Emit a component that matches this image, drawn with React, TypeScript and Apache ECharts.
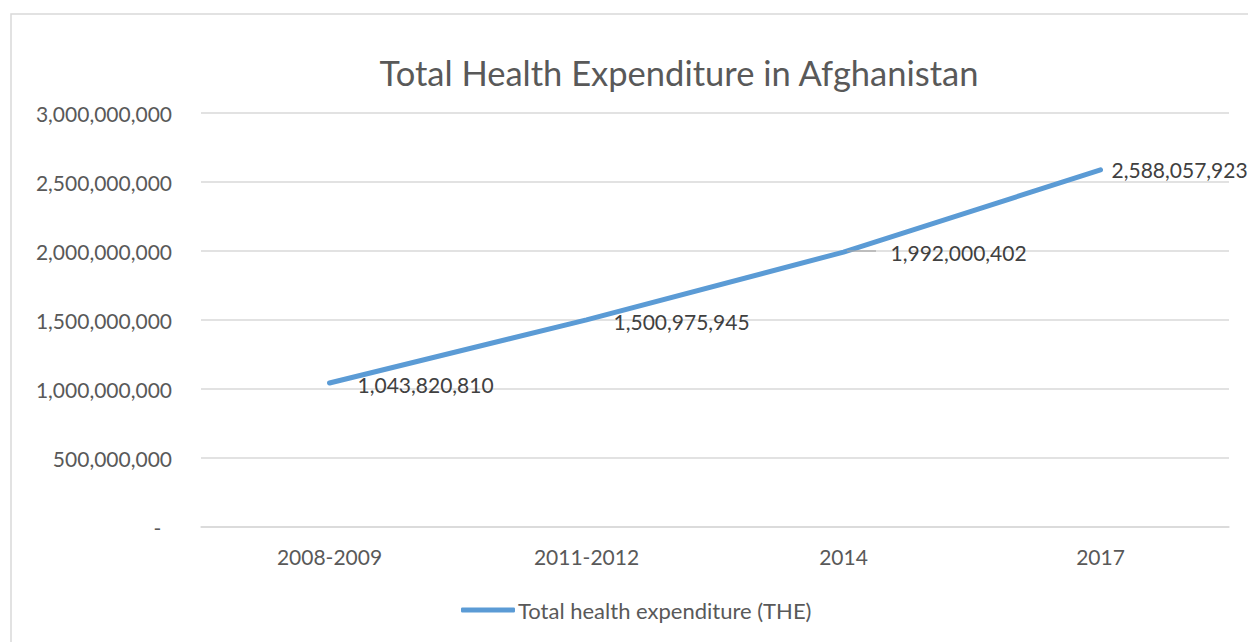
import React, { useEffect, useRef } from "react";
import * as echarts from "echarts";

const categories = ["2008-2009", "2011-2012", "2014", "2017"];
const values = [1043820810, 1500975945, 1992000402, 2588057923];
const yTicks = [0, 500000000, 1000000000, 1500000000, 2000000000, 2500000000, 3000000000];
const seriesName = "Total health expenditure (THE)";
const titleText = "Total Health Expenditure in Afghanistan";
const labelOffsets = [[28, 2], [27, 2], [47, 0], [11, 0]];

const FONT = "Lato, 'Open Sans', sans-serif";

export default function App() {
  const ref = useRef<HTMLDivElement>(null);
  useEffect(() => {
    if (!ref.current) return;
    const chart = echarts.init(ref.current, undefined, { renderer: "svg" });
    const fmt = (v: number) => (v === 0 ? "-\u00a0\u00a0" : v.toLocaleString("en-US"));
    chart.setOption({
      animation: false,
      textStyle: { fontFamily: FONT },
      title: {
        text: titleText,
        left: 674,
        textAlign: "center",
        top: 50,
        textStyle: { fontFamily: FONT, fontSize: 34.5, fontWeight: "normal", color: "#595959" },
      },
      graphic: [
        {
          type: "rect",
          shape: { x: 11, y: 14, width: 1400, height: 800 },
          style: { fill: "none", stroke: "#d9d9d9", lineWidth: 1.5 },
          silent: true,
        },
        {
          type: "line",
          z: 100,
          shape: { x1: 847, y1: 251, x2: 876, y2: 251 },
          style: { stroke: "#a6a6a6", lineWidth: 1.2 },
          silent: true,
        },
      ],
      legend: {
        data: [seriesName],
        left: 456,
        top: 594,
        itemWidth: 54,
        itemHeight: 5,
        itemGap: 4,
        icon: "roundRect",
        textStyle: { fontFamily: FONT, fontSize: 22, color: "#595959", padding: [0, 0, 0, -2] },
      },
      grid: { left: 201, right: 19, top: 113, bottom: 115, containLabel: false },
      xAxis: {
        type: "category",
        data: categories,
        boundaryGap: true,
        axisLine: { show: true, lineStyle: { color: "#d9d9d9", width: 1.5 } },
        axisTick: { show: false },
        axisLabel: { fontFamily: FONT, fontSize: 21, color: "#595959", margin: 19 },
      },
      yAxis: {
        type: "value",
        min: yTicks[0],
        max: yTicks[yTicks.length - 1],
        interval: yTicks[1] - yTicks[0],
        axisLine: { show: false },
        axisTick: { show: false },
        splitLine: { lineStyle: { color: "#d9d9d9", width: 1.5 } },
        axisLabel: { fontFamily: FONT, fontSize: 21, color: "#595959", margin: 29, formatter: fmt },
      },
      series: [
        {
          name: seriesName,
          type: "line",
          data: values.map((v, i) => ({
            value: v,
            label: { offset: labelOffsets[i] },
          })),
          symbol: "circle",
          symbolSize: 0.1,
          showSymbol: true,
          lineStyle: { color: "#5b9bd5", width: 5, cap: "round" },
          itemStyle: { color: "#5b9bd5" },
          label: {
            show: true,
            position: "right",
            distance: 0,
            fontFamily: FONT,
            fontSize: 21,
            color: "#404040",
            formatter: (p: any) => Number(p.value).toLocaleString("en-US"),
          },
        },
      ],
    });
    return () => chart.dispose();
  }, []);
  return (
    <div
      ref={ref}
      style={{ position: "fixed", left: 0, top: 0, width: 1248, height: 642, background: "#fff" }}
    />
  );
}
